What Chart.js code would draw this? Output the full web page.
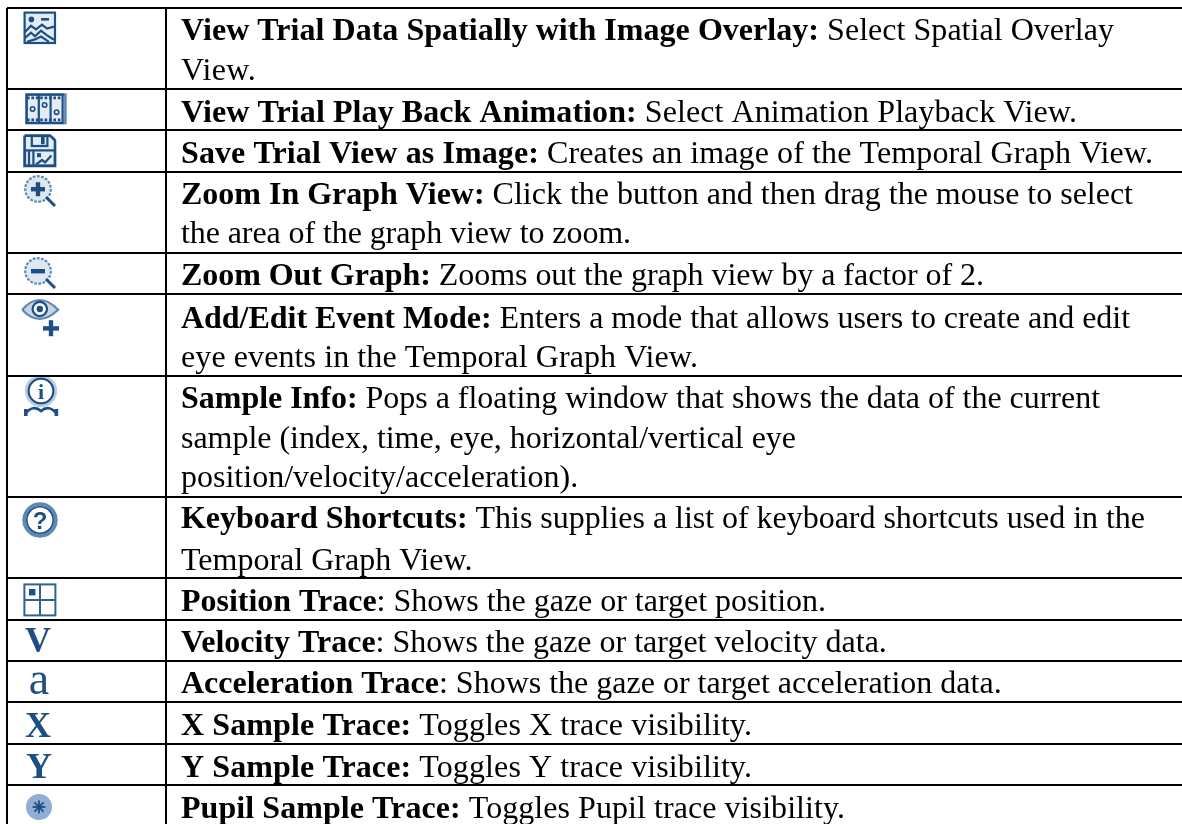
<!DOCTYPE html>
<html>
<head>
<meta charset="utf-8">
<style>
  html, body { margin: 0; padding: 0; background: #fff; overflow: hidden; }
  canvas { display: block; }
</style>
<script src="https://cdn.jsdelivr.net/npm/chart.js@4/dist/chart.umd.min.js"></script>
</head>
<body>
<canvas id="toolTable" width="1182" height="824"></canvas>
<script>
// table content, one entry per row
const iconNames = ['overlay', 'film', 'save', 'zoomIn', 'zoomOut', 'eye', 'info', 'help',
                   'position', 'V', 'a', 'X', 'Y', 'pupil'];

// each row is a list of lines, each line is [bold part, regular part]
const rowLines = [
    [['View Trial Data Spatially with Image Overlay:', ' Select Spatial Overlay'], ['', 'View.']],
    [['View Trial Play Back Animation:', ' Select Animation Playback View.']],
    [['Save Trial View as Image:', ' Creates an image of the Temporal Graph View.']],
    [['Zoom In Graph View:', ' Click the button and then drag the mouse to select'], ['', 'the area of the graph view to zoom.']],
    [['Zoom Out Graph:', ' Zooms out the graph view by a factor of 2.']],
    [['Add/Edit Event Mode:', ' Enters a mode that allows users to create and edit'], ['', 'eye events in the Temporal Graph View.']],
    [['Sample Info:', ' Pops a floating window that shows the data of the current'], ['', 'sample (index, time, eye, horizontal/vertical eye'], ['', 'position/velocity/acceleration).']],
    [['Keyboard Shortcuts:', ' This supplies a list of keyboard shortcuts used in the'], ['', 'Temporal Graph View.']],
    [['Position Trace', ': Shows the gaze or target position.']],
    [['Velocity Trace', ': Shows the gaze or target velocity data.']],
    [['Acceleration Trace', ': Shows the gaze or target acceleration data.']],
    [['X Sample Trace:', ' Toggles X trace visibility.']],
    [['Y Sample Trace:', ' Toggles Y trace visibility.']],
    [['Pupil Sample Trace:', ' Toggles Pupil trace visibility.']]
];

// table geometry on the axes
const columnEdges = [7, 166];
const rowEdges = [8, 89, 130, 172, 253, 294, 376, 497, 578, 620, 661, 702, 744, 785];
const textX = 181;
const textBaselines = [
    [40, 80], [122], [163], [204, 243], [285], [328, 367], [408, 448, 487], [528, 570],
    [611], [652], [693], [735], [777], [818]
];
// where a line ends in the source, null where the natural width is fine
const lineEnds = [
    [1114, 256], [1077], [1153], [1133, 631], [984], [1130, 698], [1100, 796, null], [1145, null],
    [826], [null], [null], [752], [752], [845]
];
const iconX = [40, 46, 40, 40, 40, 41, 41, 40, 40, 38, 39, 38, 39, 39];
const iconY = [28, 109, 151, 192, 274, 317, 397, 520, 600, 640, 683, 725, 766, 807];

const DARK = '#1d4f84';
const MID = '#5f88b3';
const LIGHT = '#b9cde0';
const SERIF = '"Liberation Serif", "Times New Roman", serif';

// draws an icon on its own small canvas, in units of 2px, softened like a scaled bitmap
function makeIcon(w, h, draw) {
    const c = document.createElement('canvas');
    c.width = w * 2;
    c.height = h * 2;
    const g = c.getContext('2d');
    g.filter = 'blur(0.7px)';
    g.scale(2, 2);
    g.strokeStyle = DARK;
    g.fillStyle = DARK;
    g.lineWidth = 1.3;
    draw(g);
    return c;
}

function glyphIcon(w, h, text, font, x, y) {
    return makeIcon(w, h, g => {
        g.font = font;
        g.textAlign = 'center';
        g.fillText(text, x, y);
    });
}

function line(g, pts) {
    g.beginPath();
    pts.forEach((p, i) => i ? g.lineTo(p[0], p[1]) : g.moveTo(p[0], p[1]));
    g.stroke();
}

function lens(g, minus) {
    g.fillStyle = '#dfe8f1';
    g.beginPath();
    g.arc(7.5, 7, 6.2, 0, Math.PI * 2);
    g.fill();
    g.fillStyle = DARK;
    g.strokeStyle = MID;
    g.lineWidth = 1.1;
    g.setLineDash([1.4, 0.7]);
    g.beginPath();
    g.arc(7.5, 7, 6.4, 0, Math.PI * 2);
    g.stroke();
    g.setLineDash([]);
    g.strokeStyle = DARK;
    g.lineWidth = 1.5;
    line(g, [[11.5, 11], [16, 15.5]]);
    g.fillRect(4, 6, 7, 2.2);
    if (!minus) g.fillRect(6.4, 3.6, 2.2, 7);
}

const icons = {
    overlay: makeIcon(17, 17, g => {
        g.lineWidth = 1.1;
        g.fillStyle = '#e3ebf3';
        g.fillRect(1, 1, 15, 15);
        g.fillStyle = DARK;
        g.strokeRect(0.8, 0.8, 15.2, 15.2);
        g.beginPath();
        g.arc(4.2, 4.2, 1.4, 0, Math.PI * 2);
        g.fill();
        g.fillRect(9, 3.5, 4, 1.3);
        line(g, [[1, 10.5], [4, 7.4], [6.5, 9.2], [9.5, 6.8], [12, 8.8], [15.5, 7.8]]);
        line(g, [[1, 13.4], [4, 10.8], [6, 12.6], [9, 9.8], [12, 12.2], [15.5, 14.4]]);
        line(g, [[2, 15.4], [6, 14.2], [9, 12.8], [13, 15.4]]);
    }),
    film: makeIcon(21, 16, g => {
        g.fillStyle = '#e3ebf3';
        g.fillRect(1, 1, 19, 14);
        g.fillStyle = DARK;
        g.strokeStyle = MID;
        g.strokeRect(0.8, 0.8, 19.4, 14.2);
        g.strokeStyle = DARK;
        g.lineWidth = 1.1;
        g.strokeRect(0.8, 0.8, 18, 14.2);
        g.setLineDash([1.3, 0.9]);
        g.lineWidth = 1.4;
        line(g, [[1, 2.4], [19, 2.4]]);
        line(g, [[1, 13.4], [19, 13.4]]);
        g.setLineDash([]);
        g.lineWidth = 1.1;
        line(g, [[6.9, 1], [6.9, 14.5]]);
        line(g, [[12.8, 1], [12.8, 14.5]]);
        g.lineWidth = 0.8;
        [[3.8, 8], [9.8, 6], [15.8, 9.6]].forEach(p => {
            g.beginPath();
            g.arc(p[0], p[1], 1.1, 0, Math.PI * 2);
            g.stroke();
        });
    }),
    save: makeIcon(17, 17, g => {
        g.fillStyle = '#e3ebf3';
        g.fillRect(1, 1, 15, 15);
        g.fillStyle = DARK;
        line(g, [[0.8, 0.8], [13.5, 0.8], [16, 3.2], [16, 16], [0.8, 16], [0.8, 0.8]]);
        g.lineWidth = 1.1;
        g.strokeRect(4.4, 1, 7.8, 5);
        g.fillRect(9, 1.5, 1.8, 3.6);
        g.strokeRect(1, 8.2, 15, 7.6);
        line(g, [[5.2, 8.2], [5.2, 15.8]]);
        line(g, [[3, 8.2], [3, 15.8]]);
        g.fillRect(7, 9.6, 2, 2);
        line(g, [[6.5, 15.2], [9.5, 13], [11, 14.2], [14.2, 10.8]]);
    }),
    zoomIn: makeIcon(17, 17, g => lens(g, false)),
    zoomOut: makeIcon(17, 17, g => lens(g, true)),
    eye: makeIcon(20, 20, g => {
        g.fillStyle = '#c6d6e6';
        g.beginPath();
        g.moveTo(0.6, 6.4);
        g.quadraticCurveTo(9, -3.4, 18.6, 6.4);
        g.quadraticCurveTo(9, 15.5, 0.6, 6.4);
        g.fill();
        g.strokeStyle = MID;
        g.lineWidth = 1.1;
        g.stroke();
        g.strokeStyle = DARK;
        g.fillStyle = '#fff';
        g.beginPath();
        g.arc(9.4, 6, 3.6, 0, Math.PI * 2);
        g.fill();
        g.stroke();
        g.fillStyle = DARK;
        g.beginPath();
        g.arc(9.4, 6, 1.6, 0, Math.PI * 2);
        g.fill();
        g.fillRect(11, 14.6, 8, 2.2);
        g.fillRect(13.9, 11.6, 2.2, 8);
    }),
    info: makeIcon(18, 20, g => {
        g.strokeStyle = LIGHT;
        g.beginPath();
        g.arc(9, 7, 7.4, 0, Math.PI * 2);
        g.stroke();
        g.strokeStyle = DARK;
        g.lineWidth = 1.1;
        g.beginPath();
        g.arc(9, 7, 6.2, 0, Math.PI * 2);
        g.stroke();
        g.font = 'bold 11px ' + SERIF;
        g.textAlign = 'center';
        g.fillText('i', 9, 11);
        g.lineWidth = 1.3;
        g.beginPath();
        g.moveTo(1, 18.5);
        g.quadraticCurveTo(5, 13.5, 9, 17);
        g.quadraticCurveTo(13, 13.5, 17, 18.5);
        g.stroke();
        g.fillRect(0.5, 16, 1.8, 3.5);
        g.fillRect(15.8, 16, 1.8, 3.5);
    }),
    help: makeIcon(18, 18, g => {
        g.strokeStyle = MID;
        g.lineWidth = 1.9;
        g.beginPath();
        g.arc(9, 9, 7.9, 0, Math.PI * 2);
        g.stroke();
        g.strokeStyle = DARK;
        g.lineWidth = 0.8;
        g.beginPath();
        g.arc(9, 9, 6.6, 0, Math.PI * 2);
        g.stroke();
        g.font = 'bold 12px "Liberation Sans", sans-serif';
        g.textAlign = 'center';
        g.fillText('?', 9, 13.3);
    }),
    position: makeIcon(17, 17, g => {
        g.lineWidth = 1;
        g.strokeStyle = '#2f6295';
        g.strokeRect(0.7, 0.7, 15.5, 15.5);
        line(g, [[8.5, 1], [8.5, 16]]);
        line(g, [[1, 8.5], [16, 8.5]]);
        g.fillRect(3, 3, 3.2, 3.2);
    }),
    V: glyphIcon(14, 14, 'V', 'bold 18px ' + SERIF, 7, 13),
    a: glyphIcon(14, 14, 'a', '23px ' + SERIF, 7, 12.5),
    X: glyphIcon(14, 14, 'X', 'bold 18px ' + SERIF, 7, 13),
    Y: glyphIcon(14, 14, 'Y', 'bold 18px ' + SERIF, 7, 13),
    pupil: makeIcon(15, 15, g => {
        g.fillStyle = '#8fb0d2';
        g.beginPath();
        g.arc(7.5, 7.5, 6.5, 0, Math.PI * 2);
        g.fill();
        g.lineWidth = 0.9;
        [0, 1, 2, 3].forEach(i => {
            const a = i * Math.PI / 4;
            const dx = Math.cos(a) * 3.2;
            const dy = Math.sin(a) * 3.2;
            line(g, [[7.5 - dx, 7.5 - dy], [7.5 + dx, 7.5 + dy]]);
        });
    })
};

// writes the cell text at positions taken from the chart's scales
const cellText = {
    id: 'cellText',
    afterDatasetsDraw(chart) {
        const ctx = chart.ctx;
        const xs = chart.scales.x;
        const ys = chart.scales.y;
        const BOLD = 'bold 32px ' + SERIF;
        const REGULAR = '32px ' + SERIF;
        ctx.save();
        ctx.fillStyle = '#000';
        ctx.textBaseline = 'alphabetic';
        ctx.filter = 'blur(0.3px)';
        rowLines.forEach((lines, r) => {
            lines.forEach((parts, l) => {
                let x = xs.getPixelForValue(textX);
                const y = ys.getPixelForValue(textBaselines[r][l]);

                // stretch the line a little so that it ends where the source does
                ctx.letterSpacing = '0px';
                ctx.font = BOLD;
                let natural = ctx.measureText(parts[0]).width;
                ctx.font = REGULAR;
                natural += ctx.measureText(parts[1]).width;
                const end = lineEnds[r][l];
                const extra = end === null ? 0 : (xs.getPixelForValue(end) - x - natural) / (parts[0].length + parts[1].length);
                ctx.letterSpacing = extra + 'px';

                ctx.font = BOLD;
                ctx.fillText(parts[0], x, y);
                x += ctx.measureText(parts[0]).width;
                ctx.font = REGULAR;
                ctx.fillText(parts[1], x, y);
            });
        });
        ctx.restore();
    }
};

new Chart(document.getElementById('toolTable'), {
    type: 'scatter',
    data: {
        datasets: [{
            data: iconNames.map((n, i) => ({ x: iconX[i], y: iconY[i] })),
            pointStyle: iconNames.map(n => icons[n]),
            clip: false
        }]
    },
    options: {
        responsive: false,
        animation: false,
        layout: { autoPadding: false, padding: { left: 7, top: 8, right: 0, bottom: 0 } },
        plugins: { legend: { display: false }, tooltip: { enabled: false } },
        scales: {
            x: {
                type: 'linear',
                min: 7,
                max: 1182,
                afterBuildTicks: s => { s.ticks = columnEdges.map(v => ({ value: v })); },
                ticks: { display: false },
                border: { display: false },
                grid: { color: '#000', lineWidth: 2, drawTicks: false }
            },
            y: {
                type: 'linear',
                reverse: true,
                min: 8,
                max: 824,
                afterBuildTicks: s => { s.ticks = rowEdges.map(v => ({ value: v })); },
                ticks: { display: false },
                border: { display: false },
                grid: { color: '#000', lineWidth: 2, drawTicks: false }
            }
        }
    },
    plugins: [cellText]
});
</script>
</body>
</html>
